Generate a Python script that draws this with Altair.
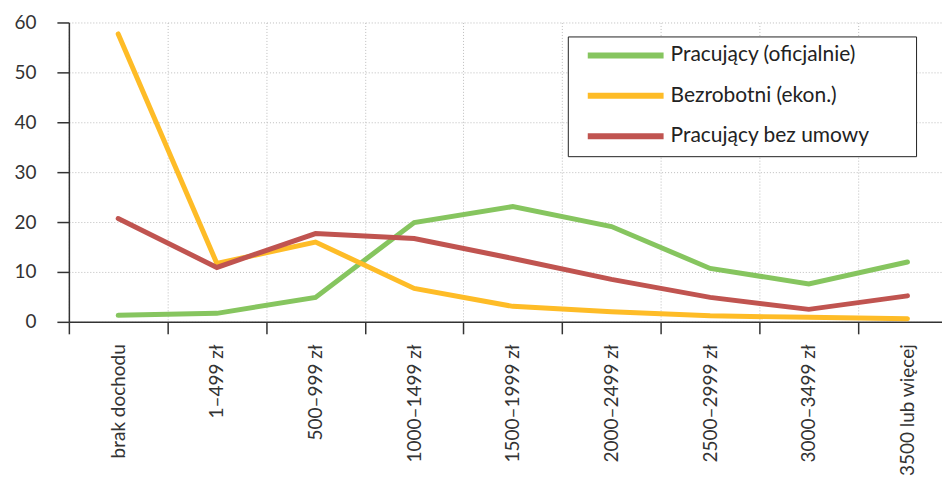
import altair as alt
import pandas as pd

categories = ["brak dochodu", "1–499 zł", "500–999 zł", "1000–1499 zł", "1500–1999 zł",
              "2000–2499 zł", "2500–2999 zł", "3000–3499 zł", "3500 lub więcej"]
series = ["Pracujący (oficjalnie)", "Bezrobotni (ekon.)", "Pracujący bez umowy"]
colors = ["#86C55F", "#FEBC27", "#C05450"]
official = [1.3, 1.7, 4.9, 19.9, 23.1, 19.1, 10.7, 7.6, 12.0]
unemployed = [57.7, 11.7, 16.0, 6.7, 3.1, 2.0, 1.2, 0.9, 0.6]
informal = [20.7, 10.9, 17.7, 16.7, 12.7, 8.5, 4.9, 2.5, 5.2]
y_ticks = [0, 10, 20, 30, 40, 50, 60]

rows = []
for name, vals in zip(series, [official, unemployed, informal]):
    for i, (c, v) in enumerate(zip(categories, vals)):
        rows.append({"idx": i, "kategoria": c, "seria": name, "wartosc": v})
df = pd.DataFrame(rows)

W = 875
dom = [-0.5, 8.35]
step = W / (dom[1] - dom[0])
FONT = "Lato"

label_expr = "[" + ",".join("'" + c + "'" for c in categories) + "][datum.value]"

chart = alt.Chart(df).mark_line(strokeWidth=5, strokeCap="round").encode(
    x=alt.X("idx:Q",
            scale=alt.Scale(domain=dom, nice=False, zero=False),
            axis=alt.Axis(values=list(range(len(categories))), labelExpr=label_expr,
                          tickOffset=-step / 2, labelOffset=step / 2, labelAngle=-90,
                          title=None, grid=True, labelOverlap=False, labelFlush=False,
                          labelBound=False, labelPadding=10)),
    y=alt.Y("wartosc:Q",
            scale=alt.Scale(domain=[0, 60], nice=False),
            axis=alt.Axis(values=y_ticks, title=None, grid=True, labelPadding=21)),
    color=alt.Color("seria:N",
                    scale=alt.Scale(domain=series, range=colors),
                    legend=alt.Legend(orient="none", legendX=500, legendY=14, title="\u00a0",
                                      titleOrient="right", titlePadding=38,
                                      symbolType="M-5,0H5", symbolSize=231,
                                      symbolStrokeWidth=6, symbolOffset=39, labelOffset=34,
                                      labelFont=FONT, labelFontSize=21, labelColor="#222",
                                      strokeColor="#222", fillColor="white", padding=8,
                                      rowPadding=16.5, labelLimit=400)),
).properties(
    width=W, height=300,
    padding={"left": 5, "top": 5, "right": 0, "bottom": 0},
).configure_view(stroke=None).configure_axis(
    domainColor="#333", domainWidth=1.5, tickColor="#333", tickWidth=1.5, tickSize=12,
    gridColor="#bdbdbd", gridDash=[1, 2], gridWidth=1,
    labelFont=FONT, labelFontSize=19, labelColor="#333",
)

chart.save("out.html", embed_options={"renderer": "svg", "actions": False})
